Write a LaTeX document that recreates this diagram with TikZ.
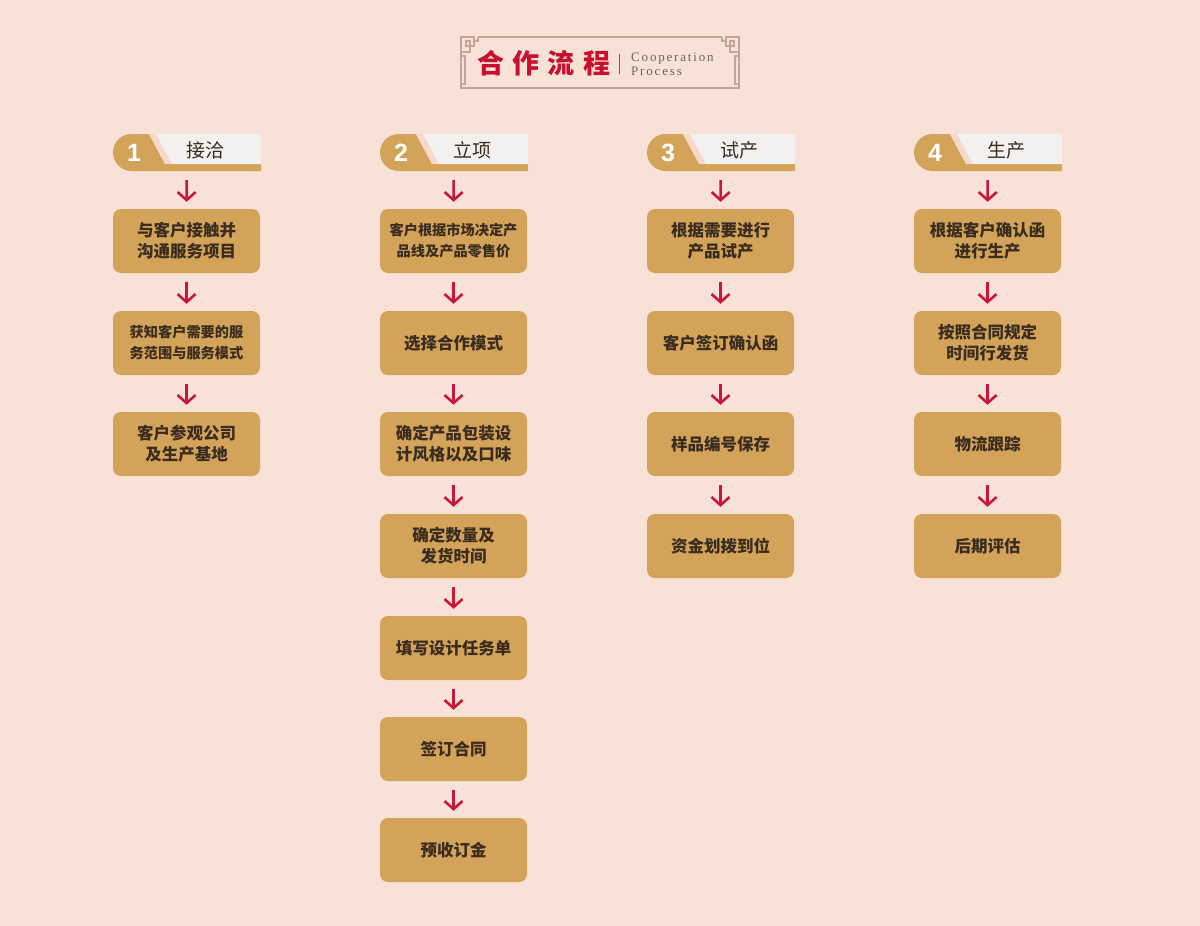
\documentclass[tikz,border=0pt]{standalone}
\usepackage{fontspec}
\usetikzlibrary{arrows.meta}
\newfontfamily\cjk{Noto Sans CJK SC}
\newfontfamily\cjktitle{Noto Sans CJK SC}[LetterSpace=31]
\newfontfamily\enserif{Liberation Serif}[LetterSpace=14]
\newfontfamily\numfont{Liberation Sans}
\definecolor{bg}{HTML}{F8E2D7}
\definecolor{gold}{HTML}{D4A35A}
\definecolor{tagwhite}{HTML}{F2F1F0}
\definecolor{band}{HTML}{F6D9CB}
\definecolor{arrred}{HTML}{C8163C}
\definecolor{txt}{HTML}{3A2C1E}
\definecolor{framec}{HTML}{C4A597}
\definecolor{titlered}{HTML}{C8102E}
\definecolor{engrey}{HTML}{6E625C}
\tikzset{
  box/.style={fill=gold, rounded corners=8pt, minimum width=147pt, minimum height=64pt,
    inner sep=0pt, align=center, text=txt, font=\cjk\bfseries\fontsize{16.5}{21}\selectfont},
  smalltxt/.style={font=\cjk\bfseries\fontsize{14.2}{21}\selectfont},
  tagbox/.style={minimum width=148pt, minimum height=37pt, inner sep=0pt},
  arr/.style={draw=arrred, line width=2.6pt, -{Straight Barb[length=8pt,width=18pt]},
    shorten <=9pt, shorten >=7pt},
  framepen/.style={draw=framec, line width=1.1pt},
  numtxt/.style={text=white, font=\numfont\bfseries\fontsize{25}{25}\selectfont},
  labtxt/.style={text=txt, font=\cjk\fontsize{19}{19}\selectfont},
}
\begin{document}
\begin{tikzpicture}[x=1pt,y=-1pt]
\fill[bg] (0,0) rectangle (1200,926);
\useasboundingbox (0,0) rectangle (1200,926);

% ---------- title frame ----------
\draw[framepen] (461,52) -- (461,88) -- (739,88) -- (739,52);
\draw[framepen] (478,37) -- (722,37);
% left corner fret
\draw[framepen] (461,52) -- (461,37) -- (474,37) -- (474,46) -- (466,46) -- (466,41) -- (470,41) -- (470,52) -- (461,52);
\draw[framepen] (474,37) -- (474,41) -- (478,41) -- (478,37);
\draw[framepen] (461,52) -- (461,56) -- (465,56) -- (465,84) -- (461,84);
% right corner fret
\draw[framepen] (739,52) -- (739,37) -- (726,37) -- (726,46) -- (734,46) -- (734,41) -- (730,41) -- (730,52) -- (739,52);
\draw[framepen] (726,37) -- (726,41) -- (722,41) -- (722,37);
\draw[framepen] (739,52) -- (739,56) -- (735,56) -- (735,84) -- (739,84);

\node[anchor=west, inner sep=0pt, text=titlered, font=\cjktitle\bfseries\fontsize{27}{27}\selectfont] (ttl) at (477,63) {合作流程};
\coordinate (sepT) at (619,54);
\coordinate (sepB) at (619,74);
\draw[draw=engrey, line width=0.8pt] (sepT) -- (sepB);
\node[anchor=west, inner sep=0pt, align=left, text=engrey, font=\enserif\fontsize{13}{13.5}\selectfont] (eng) at (631,64.5) {Cooperation\\Process};

% ---------- tags ----------
\foreach \x/\n/\lab in {113/1/接洽, 380/2/立项, 647/3/试产, 914/4/生产}{
  \fill[gold] (\x+36,134) [rounded corners=18.5pt] -- (\x,134) -- (\x,171) [sharp corners] -- (\x+148,171) -- (\x+148,164) -- (\x+52,164) -- cycle;
  \fill[band] (\x+36,134) -- (\x+43,134) -- (\x+59,164) -- (\x+52,164) -- cycle;
  \fill[tagwhite] (\x+43,134) -- (\x+148,134) -- (\x+148,164) -- (\x+59,164) -- cycle;
  \node[tagbox] (tag\n) at (\x+73.75,152.5) {};
  \node[numtxt] (num\n) at (\x+21,153) {\n};
  \node[labtxt] (lab\n) at (\x+92,150) {\lab};
}

% ---------- column 1 ----------
\node[box] (a1) at (186.5,241) {与客户接触并\\沟通服务项目};
\node[box, smalltxt] (a2) at (186.5,343) {获知客户需要的服\\务范围与服务模式};
\node[box] (a3) at (186.5,444) {客户参观公司\\及生产基地};
\draw[arr] (tag1) -- (a1);
\draw[arr] (a1) -- (a2);
\draw[arr] (a2) -- (a3);

% ---------- column 2 ----------
\node[box, smalltxt] (b1) at (453.5,241) {客户根据市场决定产\\品线及产品零售价};
\node[box] (b2) at (453.5,343) {选择合作模式};
\node[box] (b3) at (453.5,444) {确定产品包装设\\计风格以及口味};
\node[box] (b4) at (453.5,546) {确定数量及\\发货时间};
\node[box] (b5) at (453.5,648) {填写设计任务单};
\node[box] (b6) at (453.5,749) {签订合同};
\node[box] (b7) at (453.5,850) {预收订金};
\draw[arr] (tag2) -- (b1);
\draw[arr] (b1) -- (b2);
\draw[arr] (b2) -- (b3);
\draw[arr] (b3) -- (b4);
\draw[arr] (b4) -- (b5);
\draw[arr] (b5) -- (b6);
\draw[arr] (b6) -- (b7);

% ---------- column 3 ----------
\node[box] (c1) at (720.5,241) {根据需要进行\\产品试产};
\node[box] (c2) at (720.5,343) {客户签订确认函};
\node[box] (c3) at (720.5,444) {样品编号保存};
\node[box] (c4) at (720.5,546) {资金划拨到位};
\draw[arr] (tag3) -- (c1);
\draw[arr] (c1) -- (c2);
\draw[arr] (c2) -- (c3);
\draw[arr] (c3) -- (c4);

% ---------- column 4 ----------
\node[box] (d1) at (987.5,241) {根据客户确认函\\进行生产};
\node[box] (d2) at (987.5,343) {按照合同规定\\时间行发货};
\node[box] (d3) at (987.5,444) {物流跟踪};
\node[box] (d4) at (987.5,546) {后期评估};
\draw[arr] (tag4) -- (d1);
\draw[arr] (d1) -- (d2);
\draw[arr] (d2) -- (d3);
\draw[arr] (d3) -- (d4);
\end{tikzpicture}
\end{document}
